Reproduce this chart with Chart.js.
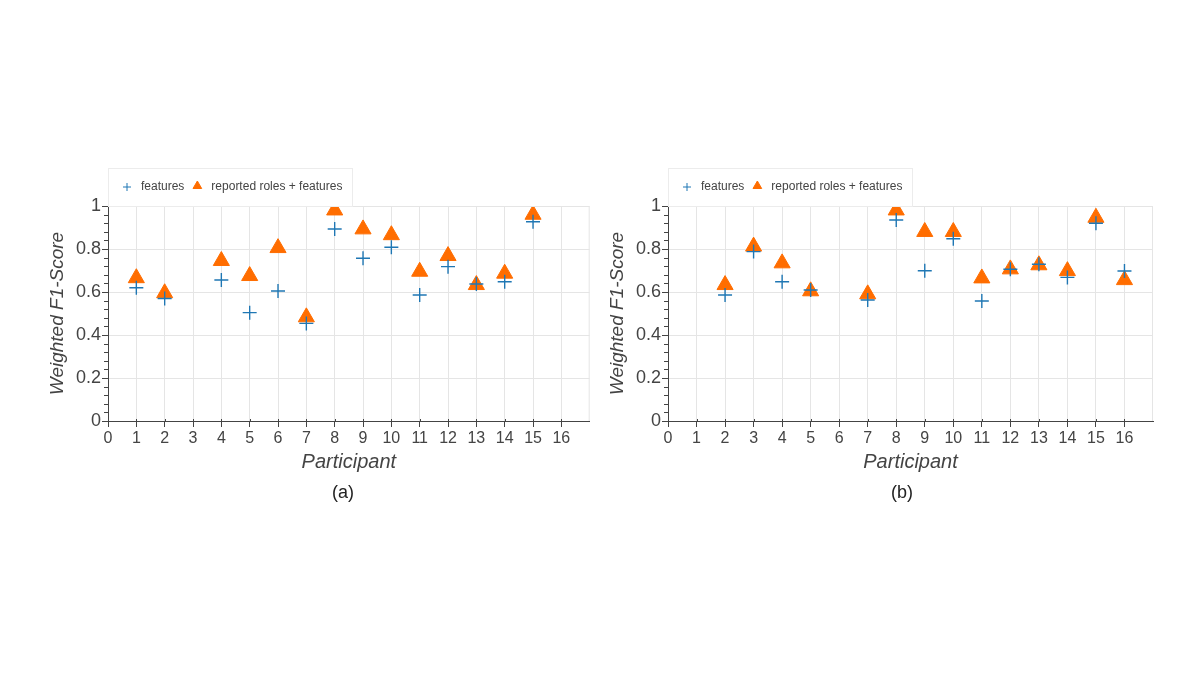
<!DOCTYPE html>
<html>
<head>
<meta charset="utf-8">
<script src="https://cdn.jsdelivr.net/npm/chart.js@4/dist/chart.umd.min.js"></script>
<style>
  body { margin: 0; background: #fff; width: 1200px; height: 675px; position: relative; overflow: hidden; }
  .panel { position: absolute; top: 0; width: 600px; height: 675px; }
  .caption { position: absolute; top: 482px; font: 18px "Liberation Sans", Arial, sans-serif; color: #222; transform: translateX(-50%); }
</style>
</head>
<body>
<div class="panel" style="left:0"><canvas id="chartA"></canvas></div>
<div class="panel" style="left:600px"><canvas id="chartB"></canvas></div>
<div class="caption" style="left:343px">(a)</div>
<div class="caption" style="left:902px">(b)</div>
<script>
// participants shown in each panel
const participantsA = [1, 2, 4, 5, 6, 7, 8, 9, 10, 11, 12, 13, 14, 15];
const featuresA = [0.62, 0.57, 0.656, 0.504, 0.605, 0.454, 0.893, 0.757, 0.808, 0.586, 0.718, 0.637, 0.648, 0.927];
const rolesA = [0.665, 0.595, 0.745, 0.675, 0.805, 0.483, 0.98, 0.892, 0.865, 0.695, 0.768, 0.633, 0.686, 0.96];

const participantsB = [2, 3, 4, 5, 7, 8, 9, 10, 11, 12, 13, 14, 15, 16];
const featuresB = [0.586, 0.788, 0.648, 0.609, 0.563, 0.935, 0.699, 0.848, 0.558, 0.706, 0.729, 0.668, 0.92, 0.698];
const rolesB = [0.633, 0.812, 0.734, 0.604, 0.59, 0.98, 0.88, 0.88, 0.664, 0.706, 0.725, 0.698, 0.946, 0.656];

const xTicks = [0, 1, 2, 3, 4, 5, 6, 7, 8, 9, 10, 11, 12, 13, 14, 15, 16];
const yTicks = [0, 0.2, 0.4, 0.6, 0.8, 1];
const yMinorStep = 0.04;

const seriesNames = ["features", "reported roles + features"];
const blue = "#1f77b4";
const orange = "#ff6d00";
const textColor = "#444444";
const gridColor = "#e5e5e5";
const fontFamily = '"Liberation Sans", Arial, Helvetica, sans-serif';

function toPoints(xs, ys) {
  return xs.map((x, i) => ({ x: x, y: ys[i] }));
}

// marcos, ticks menores y leyenda en caja
const decoPlugin = {
  id: "deco",
  afterDraw(chart) {
    const { ctx, chartArea: a } = chart;
    const yScale = chart.scales.y;
    const xScale = chart.scales.x;
    ctx.save();
    // borde del área de trazado (arriba y derecha)
    ctx.strokeStyle = gridColor;
    ctx.lineWidth = 1;
    ctx.beginPath();
    ctx.moveTo(a.left, a.top + 0.5);
    ctx.lineTo(a.right - 0.5, a.top + 0.5);
    ctx.lineTo(a.right - 0.5, a.bottom);
    ctx.stroke();

    // ticks menores del eje y, y pequeño tick hacia dentro en el eje x
    ctx.strokeStyle = textColor;
    ctx.beginPath();
    for (let v = 0; v <= 1.0001; v += yMinorStep) {
      const py = Math.round(yScale.getPixelForValue(v)) + 0.5;
      ctx.moveTo(a.left - 4, py);
      ctx.lineTo(a.left, py);
    }
    xTicks.forEach((v) => {
      const px = Math.round(xScale.getPixelForValue(v)) + 0.5;
      ctx.moveTo(px, a.bottom);
      ctx.lineTo(px, a.bottom - 2);
    });
    ctx.stroke();

    // leyenda
    const bx = a.left, bh = 38, bw = 245, by = a.top - bh;
    ctx.fillStyle = "#fff";
    ctx.fillRect(bx, by, bw, bh);
    ctx.strokeStyle = "#ececec";
    ctx.strokeRect(bx + 0.5, by + 0.5, bw - 1, bh);
    const cy = by + 19;
    ctx.font = "12px " + fontFamily;
    ctx.textBaseline = "middle";
    ctx.fillStyle = textColor;
    let x = bx + 19;
    chart.data.datasets.forEach((ds) => {
      ctx.strokeStyle = ds.borderColor;
      ctx.fillStyle = ds.backgroundColor;
      Chart.helpers.drawPoint(ctx, {
        pointStyle: ds.pointStyle,
        radius: ds.pointStyle === "triangle" ? 5 : 4,
        borderWidth: ds.borderWidth,
        rotation: 0
      }, x, ds.pointStyle === "triangle" ? cy - 1 : cy);
      ctx.fillStyle = textColor;
      ctx.fillText(ds.label, x + 14, cy);
      x += 14 + ctx.measureText(ds.label).width + 13;
    });
    ctx.restore();
  }
};

function makeChart(id, xs, feats, roles, padLeft, padRight) {
  return new Chart(document.getElementById(id), {
    type: "scatter",
    data: {
      datasets: [
        {
          label: seriesNames[0],
          data: toPoints(xs, feats),
          pointStyle: "cross",
          radius: 7,
          borderColor: blue,
          backgroundColor: blue,
          borderWidth: 1.4,
          clip: 0
        },
        {
          label: seriesNames[1],
          data: toPoints(xs, roles),
          pointStyle: "triangle",
          radius: 9.3,
          borderColor: orange,
          backgroundColor: orange,
          borderWidth: 1,
          clip: 0
        }
      ]
    },
    options: {
      responsive: false,
      animation: false,
      events: [],
      layout: { padding: { left: padLeft, right: padRight, top: 206, bottom: 200.6 } },
      plugins: { legend: { display: false }, tooltip: { enabled: false } },
      scales: {
        x: {
          type: "linear",
          min: 0,
          max: 17,
          afterBuildTicks: (s) => { s.ticks = xTicks.map((v) => ({ value: v })); },
          afterFit: (s) => { s.height = 53.4; },
          ticks: {
            autoSkip: false,
            maxRotation: 0,
            padding: 2,
            color: textColor,
            font: { family: fontFamily, size: 16 }
          },
          grid: { color: gridColor, tickColor: textColor, tickLength: 6 },
          border: { color: textColor, width: 1 },
          title: {
            display: true,
            text: "Participant",
            color: textColor,
            padding: { top: 0, bottom: 0 },
            font: { family: fontFamily, size: 20, style: "italic" }
          }
        },
        y: {
          min: 0,
          max: 1,
          afterBuildTicks: (s) => { s.ticks = yTicks.map((v) => ({ value: v })); },
          afterFit: (s) => { s.width = 68; },
          ticks: {
            padding: 1,
            color: textColor,
            font: { family: fontFamily, size: 18 },
            callback: (v) => String(Math.round(v * 10) / 10)
          },
          grid: { color: gridColor, tickColor: textColor, tickLength: 6 },
          border: { color: textColor, width: 1 },
          title: {
            display: true,
            text: "Weighted F1-Score",
            color: textColor,
            padding: { top: 6, bottom: 0 },
            font: { family: fontFamily, size: 19, style: "italic" }
          }
        }
      }
    },
    plugins: [decoPlugin]
  });
}

document.getElementById("chartA").width = 600;
document.getElementById("chartA").height = 675;
document.getElementById("chartB").width = 600;
document.getElementById("chartB").height = 675;

makeChart("chartA", participantsA, featuresA, rolesA, 40, 8);
makeChart("chartB", participantsB, featuresB, rolesB, 0, 47);
</script>
</body>
</html>
